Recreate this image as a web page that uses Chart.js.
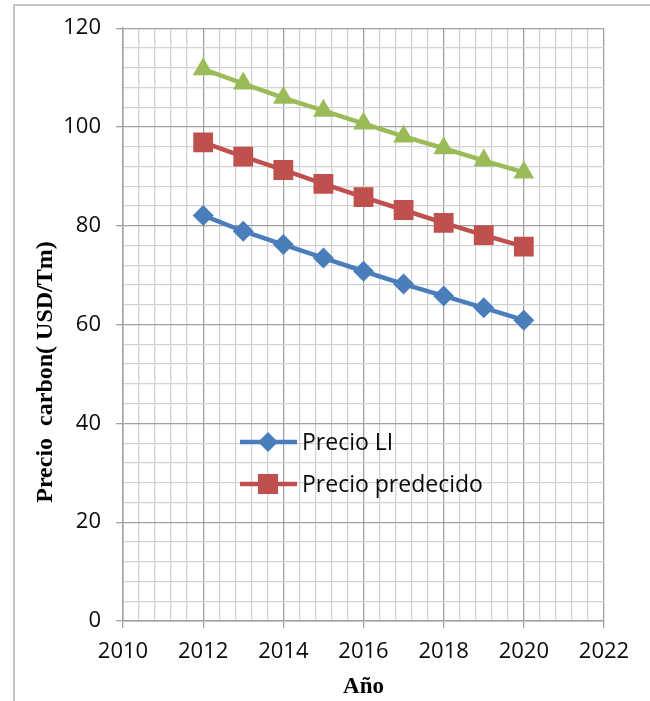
<!DOCTYPE html>
<html><head><meta charset="utf-8">
<script src="https://cdn.jsdelivr.net/npm/chart.js@4.4.1/dist/chart.umd.min.js"></script>
<style>
html,body{margin:0;padding:0;background:#fff;}
#wrap{position:relative;width:650px;height:701px;overflow:hidden;}
#frame{position:absolute;left:13px;top:4px;width:700px;height:800px;border-left:2px solid #c4c4c4;border-top:2px solid #c4c4c4;}
#c{position:absolute;left:0;top:0;}
</style></head><body>
<div id="wrap"><div id="frame"></div><canvas id="c" width="650" height="701"></canvas></div>
<script>
const years = [2012, 2013, 2014, 2015, 2016, 2017, 2018, 2019, 2020];
const precioLI = [82.1, 78.9, 76.2, 73.5, 70.8, 68.2, 65.8, 63.4, 60.9];
const precioPredecido = [96.9, 94.0, 91.3, 88.5, 85.8, 83.2, 80.6, 78.1, 75.8];
const precioSuperior = [111.7, 108.8, 105.9, 103.3, 100.7, 98.1, 95.7, 93.2, 90.8];
const xTickLabels = ['2010', '2012', '2014', '2016', '2018', '2020', '2022'];
const yTickLabels = ['0', '20', '40', '60', '80', '100', '120'];
const legendLabels = ['Precio LI', 'Precio predecido'];
const yTitle = 'Precio  carbon( USD/Tm)';
const xTitle = 'Año';

const BLUE = '#4a7ebb', RED = '#c0504d', GREEN = '#9bbb59';
const tickFont = {family: 'Open Sans', size: 22};
const titleFont = {family: 'Liberation Serif', size: 23, weight: 'bold'};

function pts(arr) { return years.map((y, i) => ({x: y, y: arr[i]})); }
function isMajorX(v) { const r = Math.round(v); return Math.abs(v - r) < 1e-6 && r % 2 === 0; }
function isMajorY(v) { const r = Math.round(v); return Math.abs(v - r) < 1e-6 && r % 20 === 0; }

const yTitlePlugin = {
  id: 'yTitlePlugin',
  afterDraw(chart) {
    const ctx = chart.ctx;
    ctx.save();
    ctx.translate(46, 372);
    ctx.rotate(-Math.PI / 2);
    ctx.font = 'bold 24px "Liberation Serif"';
    ctx.fillStyle = '#000';
    ctx.textAlign = 'center';
    ctx.textBaseline = 'middle';
    ctx.fillText(yTitle, 0, 0);
    ctx.restore();
  }
};

const legendPlugin = {
  id: 'legendPlugin',
  afterDatasetsDraw(chart) {
    const ctx = chart.ctx;
    const items = [
      {label: legendLabels[0], color: BLUE, style: 'rectRot', y: 442},
      {label: legendLabels[1], color: RED, style: 'rect', y: 484}
    ];
    ctx.save();
    items.forEach(it => {
      ctx.strokeStyle = it.color;
      ctx.lineWidth = 4.5;
      ctx.beginPath();
      ctx.moveTo(240, it.y);
      ctx.lineTo(297, it.y);
      ctx.stroke();
      ctx.fillStyle = it.color;
      ctx.beginPath();
      if (it.style === 'rect') {
        ctx.fillRect(268 - 10, it.y - 10, 20, 20);
      } else {
        ctx.moveTo(268, it.y - 10); ctx.lineTo(278, it.y); ctx.lineTo(268, it.y + 10); ctx.lineTo(258, it.y); ctx.closePath(); ctx.fill();
      }
      ctx.fillStyle = '#0a0a0a';
      ctx.font = '23px "Open Sans"';
      ctx.textAlign = 'left';
      ctx.textBaseline = 'middle';
      ctx.fillText(it.label, 302, it.y + 1);
    });
    ctx.restore();
  }
};

new Chart(document.getElementById('c'), {
  type: 'line',
  data: {
    datasets: [
      {label: 'Precio LI', data: pts(precioLI), borderColor: BLUE, backgroundColor: BLUE, borderWidth: 4.5,
       pointStyle: 'rectRot', pointRadius: 10.5, pointBorderWidth: 0, tension: 0},
      {label: 'Precio predecido', data: pts(precioPredecido), borderColor: RED, backgroundColor: RED, borderWidth: 4.5,
       pointStyle: 'rect', pointRadius: 14, pointBorderWidth: 0, tension: 0},
      {label: 'Precio superior', data: pts(precioSuperior), borderColor: GREEN, backgroundColor: GREEN, borderWidth: 4.5,
       pointStyle: 'triangle', pointRadius: 12, pointBorderWidth: 0, tension: 0}
    ]
  },
  options: {
    responsive: false,
    animation: false,
    layout: {padding: {left: 0, top: 25, right: 46, bottom: 0}},
    plugins: {legend: {display: false}, tooltip: {enabled: false}},
    scales: {
      x: {
        type: 'linear', min: 2010, max: 2022,
        afterBuildTicks(scale) {
          const t = [];
          for (let k = 0; k <= 30; k++) t.push({value: 2010 + k * 0.4});
          t[30].value = 2022;
          scale.ticks = t;
        },
        afterFit(scale) { scale.height = 80; },
        ticks: {
          autoSkip: false, maxRotation: 0, font: tickFont, color: '#0a0a0a', padding: 11,
          callback(v) { return isMajorX(v) ? xTickLabels[Math.round((Math.round(v) - 2010) / 2)] : ''; }
        },
        grid: {
          color: c => isMajorX(c.tick.value) ? '#a0a0a0' : '#d2d2d2',
          tickColor: c => isMajorX(c.tick.value) ? '#a0a0a0' : 'rgba(0,0,0,0)',
          tickLength: 7, lineWidth: 1.3
        },
        border: {color: '#a0a0a0', width: 1.5},
        title: {display: true, text: xTitle, font: titleFont, color: '#000', padding: {top: 0, bottom: 0}}
      },
      y: {
        min: 0, max: 120,
        afterBuildTicks(scale) {
          const t = [];
          for (let k = 0; k <= 30; k++) t.push({value: k * 4});
          scale.ticks = t;
        },
        afterFit(scale) { scale.width = 123; },
        ticks: {
          autoSkip: false, font: tickFont, color: '#0a0a0a', padding: 15,
          callback(v) { return isMajorY(v) ? yTickLabels[Math.round(v / 20)] : ''; }
        },
        grid: {
          color: c => isMajorY(c.tick.value) ? '#a0a0a0' : '#d2d2d2',
          tickColor: c => isMajorY(c.tick.value) ? '#a0a0a0' : 'rgba(0,0,0,0)',
          tickLength: 7, lineWidth: 1.3
        },
        border: {color: '#a0a0a0', width: 1.5}
      }
    }
  },
  plugins: [yTitlePlugin, legendPlugin]
});
</script>
</body></html>
